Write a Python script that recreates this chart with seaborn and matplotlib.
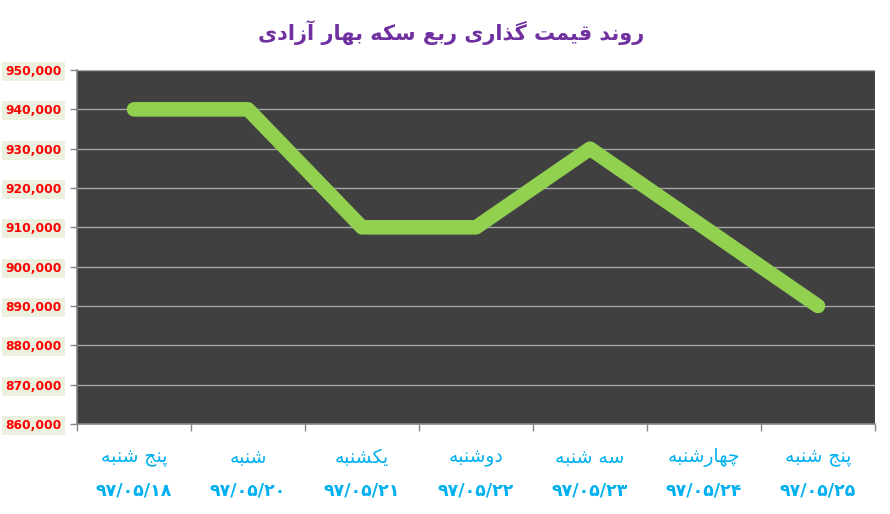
import numpy as np
import pandas as pd
import matplotlib
matplotlib.use("Agg")
import matplotlib.pyplot as plt
import seaborn as sns

# ---------------- data ----------------
title_text = "روند قیمت گذاری ربع سکه بهار آزادی"
days = ["پنج شنبه", "شنبه", "یکشنبه", "دوشنبه", "سه شنبه", "چهارشنبه", "پنج شنبه"]
dates = ["۹۷/۰۵/۱۸", "۹۷/۰۵/۲۰", "۹۷/۰۵/۲۱", "۹۷/۰۵/۲۲", "۹۷/۰۵/۲۳", "۹۷/۰۵/۲۴", "۹۷/۰۵/۲۵"]
prices = [940000, 940000, 910000, 910000, 930000, 910000, 890000]
y_ticks = [860000, 870000, 880000, 890000, 900000, 910000, 920000, 930000, 940000, 950000]

# ------------- simple Arabic/Persian shaping -------------
# forms: (isolated, final, initial, medial); right-joining letters have only 2
FORMS = {
    "ا": (0xFE8D, 0xFE8E), "آ": (0xFE81, 0xFE82), "د": (0xFEA9, 0xFEAA),
    "ذ": (0xFEAB, 0xFEAC), "ر": (0xFEAD, 0xFEAE), "ز": (0xFEAF, 0xFEB0),
    "و": (0xFEED, 0xFEEE),
    "ب": (0xFE8F, 0xFE90, 0xFE91, 0xFE92), "ت": (0xFE95, 0xFE96, 0xFE97, 0xFE98),
    "ج": (0xFE9D, 0xFE9E, 0xFE9F, 0xFEA0), "س": (0xFEB1, 0xFEB2, 0xFEB3, 0xFEB4),
    "ش": (0xFEB5, 0xFEB6, 0xFEB7, 0xFEB8), "ع": (0xFEC9, 0xFECA, 0xFECB, 0xFECC),
    "ق": (0xFED5, 0xFED6, 0xFED7, 0xFED8), "ل": (0xFEDD, 0xFEDE, 0xFEDF, 0xFEE0),
    "م": (0xFEE1, 0xFEE2, 0xFEE3, 0xFEE4), "ن": (0xFEE5, 0xFEE6, 0xFEE7, 0xFEE8),
    "ه": (0xFEE9, 0xFEEA, 0xFEEB, 0xFEEC), "ی": (0xFBFC, 0xFBFD, 0xFBFE, 0xFBFF),
    "پ": (0xFB56, 0xFB57, 0xFB58, 0xFB59), "چ": (0xFB7A, 0xFB7B, 0xFB7C, 0xFB7D),
    "ک": (0xFB8E, 0xFB8F, 0xFB90, 0xFB91), "گ": (0xFB92, 0xFB93, 0xFB94, 0xFB95),
}


def shape(text):
    out = []
    n = len(text)
    for i, ch in enumerate(text):
        f = FORMS.get(ch)
        if f is None:
            out.append(ch)
            continue
        prev = text[i - 1] if i > 0 else None
        nxt = text[i + 1] if i < n - 1 else None
        join_prev = prev in FORMS and len(FORMS[prev]) == 4
        join_next = nxt in FORMS and len(f) == 4
        if join_prev and join_next:
            out.append(chr(f[3]))
        elif join_prev:
            out.append(chr(f[1]))
        elif join_next:
            out.append(chr(f[2]))
        else:
            out.append(chr(f[0]))
    return "".join(out)[::-1]


# ---------------- plot ----------------
sns.set_theme(style="white")
plt.rcParams["font.family"] = ["DejaVu Sans"]

fig = plt.figure(figsize=(8.9, 5.14), dpi=100)
ax = fig.add_axes([77 / 890, 1 - 424 / 514, (875 - 77) / 890, (424 - 70) / 514])
ax.set_facecolor("#404040")

df = pd.DataFrame({"idx": np.arange(len(prices)), "price": prices})
sns.lineplot(data=df, x="idx", y="price", ax=ax, color="#92D050",
             linewidth=10.5, solid_capstyle="round", solid_joinstyle="round",
             zorder=3)

ax.set_xlim(-0.5, len(prices) - 0.5)
ax.set_ylim(y_ticks[0], y_ticks[-1])
ax.set_yticks(y_ticks)
ax.set_yticklabels([f"{v:,}" for v in y_ticks])
ax.yaxis.grid(True, color="#A6A6A6", linewidth=1.0, zorder=1)
ax.xaxis.grid(False)

# x ticks: marks at category boundaries, labels at centers
ax.set_xticks(np.arange(len(prices)))
ax.set_xticklabels([shape(d) for d in days])
ax.set_xticks(np.arange(-0.5, len(prices)), minor=True)
ax.tick_params(axis="x", which="major", length=0, pad=17, labelsize=13.5,
               labelcolor="#00B0F0")
ax.tick_params(axis="x", which="minor", length=5, width=1, color="#868686",
               direction="out", bottom=True)
ax.tick_params(axis="y", length=5, width=1, color="#868686", direction="out",
               left=True, pad=6, labelsize=8.8, labelcolor="#FF0000")
for lab in ax.get_yticklabels():
    lab.set_fontweight("bold")
    lab.set_bbox(dict(facecolor="#EBF1DE", edgecolor="none", pad=2.2))

for i, d in enumerate(dates):
    ax.text(i, -0.187, d, transform=ax.get_xaxis_transform(), ha="center",
            va="center", fontsize=12.5, fontweight="bold", color="#00B0F0")

for s in ["top", "right"]:
    ax.spines[s].set_visible(False)
for s in ["left", "bottom"]:
    ax.spines[s].set_color("#868686")
    ax.spines[s].set_linewidth(1.2)

ax.set_xlabel("")
ax.set_ylabel("")

fig.text(0.507, 1 - 33 / 514, shape(title_text), ha="center", va="center",
         fontsize=15, fontweight="bold", color="#7030A0")

fig.savefig("out.png", dpi=100, facecolor="white")
